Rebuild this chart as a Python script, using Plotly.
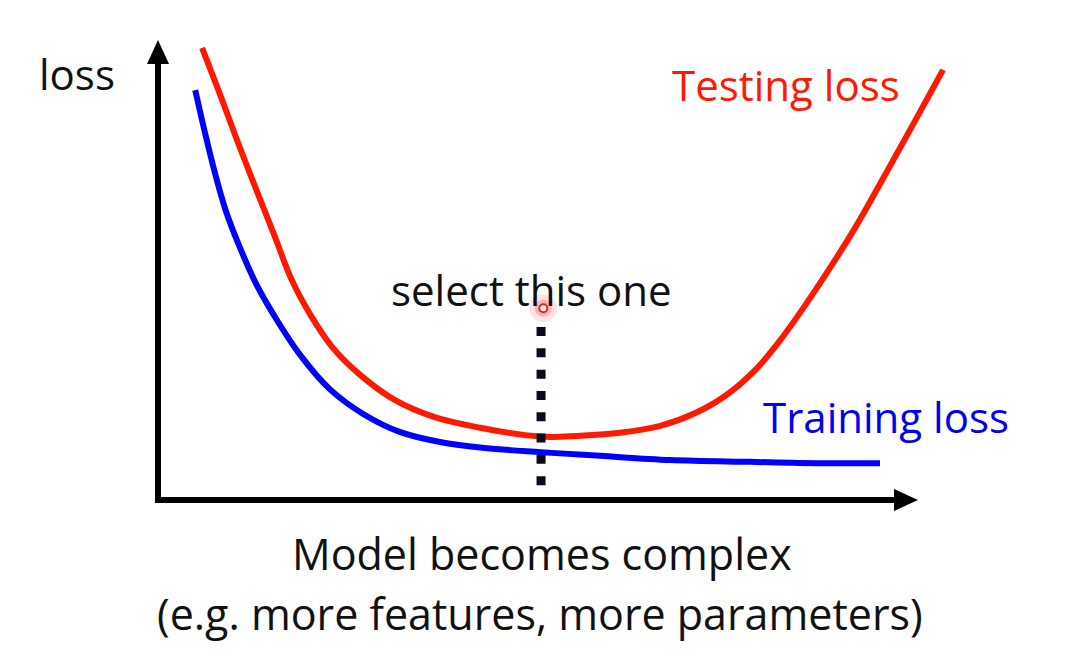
import plotly.graph_objects as go

# Model complexity (arbitrary units) vs loss (arbitrary units)
test_x = [0.58, 0.82, 1.05, 1.29, 1.53, 1.76, 2.00, 2.29, 2.66, 3.12, 3.64, 4.24, 4.83, 5.16,
          5.49, 6.08, 6.61, 7.07, 7.46, 7.86, 8.18, 8.51, 8.84, 9.17, 9.50, 9.83, 10.09, 10.33]
test_loss = [9.83, 8.80, 7.78, 6.76, 5.76, 4.78, 4.04, 3.33, 2.72, 2.17, 1.80, 1.57, 1.41, 1.37,
             1.39, 1.46, 1.61, 1.89, 2.26, 2.83, 3.46, 4.22, 5.04, 5.91, 6.87, 7.85, 8.63, 9.35]

train_x = [0.49, 0.61, 0.74, 0.89, 1.08, 1.30, 1.58, 1.89, 2.26, 2.70, 3.18, 3.71, 4.30, 5.04,
           5.82, 6.74, 7.79, 8.71, 9.50]
train_loss = [8.91, 8.04, 7.17, 6.30, 5.48, 4.67, 3.87, 3.11, 2.41, 1.87, 1.48, 1.26, 1.13, 1.04,
              0.96, 0.87, 0.83, 0.80, 0.80]

select_x = 5.04
select_top = 3.76
select_bottom = 0.28
select_dot = (5.07, 4.17)

W, H = 1087, 662
# pixel mapping helpers (origin of drawn axes at px (158, 500))
OX, OY, KX, KY = 158, 500, 76.0, 46.0
def dx(px):
    return (px - OX) / KX
def dy(py):
    return (OY - py) / KY

RED = "rgb(255,25,0)"
BLUE = "rgb(0,0,255)"
FONT = "Open Sans"
FS = 42
FSB = 43

fig = go.Figure()
fig.add_trace(go.Scatter(x=test_x, y=test_loss, mode="lines",
                         line=dict(color=RED, width=6, shape="spline", smoothing=1.0),
                         hoverinfo="skip", showlegend=False))
fig.add_trace(go.Scatter(x=train_x, y=train_loss, mode="lines",
                         line=dict(color=BLUE, width=6, shape="spline", smoothing=1.0),
                         hoverinfo="skip", showlegend=False))
# dotted selection line
fig.add_trace(go.Scatter(x=[select_x, select_x], y=[select_top, select_bottom], mode="lines",
                         line=dict(color="#0a0a1a", width=9, dash="9px,12.3px"),
                         hoverinfo="skip", showlegend=False))
# glowing pointer
fig.add_trace(go.Scatter(x=[select_dot[0]], y=[select_dot[1]], mode="markers",
                         marker=dict(size=28, color="rgba(255,90,90,0.16)", line=dict(width=0)),
                         hoverinfo="skip", showlegend=False))
fig.add_trace(go.Scatter(x=[select_dot[0]], y=[select_dot[1]], mode="markers",
                         marker=dict(size=17, color="rgba(255,70,70,0.3)", line=dict(width=0)),
                         hoverinfo="skip", showlegend=False))
fig.add_trace(go.Scatter(x=[select_dot[0]], y=[select_dot[1]], mode="markers",
                         marker=dict(size=8, color="white", line=dict(color="rgb(240,30,30)", width=2)),
                         hoverinfo="skip", showlegend=False))

shapes = []
# y axis
shapes.append(dict(type="line", x0=0, y0=dy(503), x1=0, y1=dy(62), line=dict(color="black", width=6)))
shapes.append(dict(type="path",
                   path=f"M {dx(147)},{dy(64)} L {dx(158)},{dy(40)} L {dx(169)},{dy(64)} Z",
                   fillcolor="black", line=dict(color="black", width=0)))
# x axis
shapes.append(dict(type="line", x0=dx(155), y0=0, x1=dx(897), y1=0, line=dict(color="black", width=6)))
shapes.append(dict(type="path",
                   path=f"M {dx(894)},{dy(489)} L {dx(918)},{dy(500)} L {dx(894)},{dy(511)} Z",
                   fillcolor="black", line=dict(color="black", width=0)))

def ann(text, px, py, size, color):
    return dict(text=text, x=px / W, y=1 - py / H, xref="paper", yref="paper",
                showarrow=False, xanchor="center", yanchor="middle",
                font=dict(family=FONT, size=size, color=color))

annotations = [
    ann("loss", 77, 73, FS, "#111111"),
    ann("Testing loss", 786, 84, FS, RED),
    ann("select this one", 531, 289, FS, "#111111"),
    ann("Training loss", 886, 416, FS, "rgb(0,0,235)"),
    ann("Model becomes complex", 542, 553, FSB, "#111111"),
    ann("(e.g. more features, more parameters)", 540, 613, FSB, "#111111"),
]

fig.update_layout(
    width=W, height=H, autosize=False,
    margin=dict(l=0, r=0, t=0, b=0),
    paper_bgcolor="white", plot_bgcolor="white",
    xaxis=dict(range=[dx(0), dx(W)], visible=False, fixedrange=True),
    yaxis=dict(range=[dy(H), dy(0)], visible=False, fixedrange=True),
    shapes=shapes, annotations=annotations,
    showlegend=False,
)

fig.write_html("out.html", config={"displayModeBar": False},
               post_script="document.body.style.margin='0';document.body.style.overflow='hidden';")
